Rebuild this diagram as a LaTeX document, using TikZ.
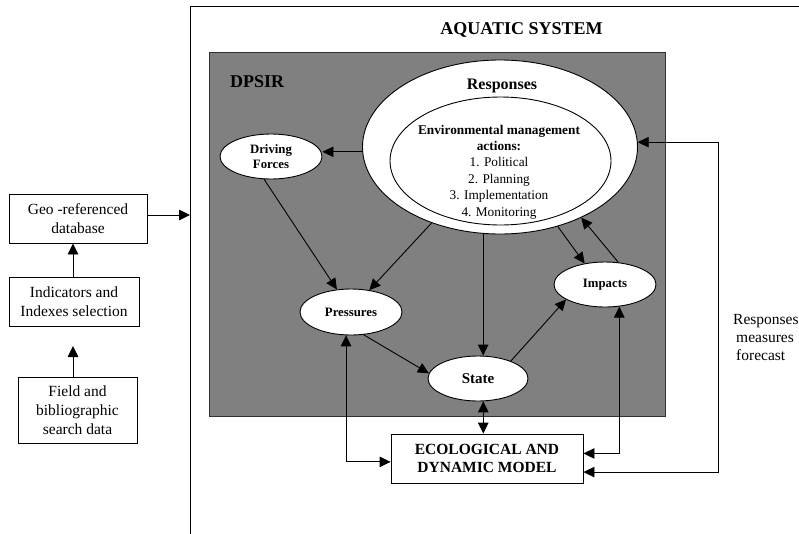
\documentclass[tikz,border=0pt]{standalone}
\usepackage{fontspec}
\setmainfont{Liberation Serif}
\usetikzlibrary{arrows.meta,shapes.geometric,calc}
\definecolor{dpsirgray}{HTML}{808080}
\definecolor{dpsirline}{HTML}{303030}
\begin{document}
\begin{tikzpicture}[x=1pt,y=-1pt,
  ell/.style={ellipse, draw, fill=white, inner sep=0pt, line width=0.9pt, align=center,
    font=\bfseries\fontsize{12.8}{15}\selectfont},
  wbox/.style={rectangle, draw, fill=white, line width=0.9pt, inner sep=0pt, align=center,
    font=\fontsize{15.5}{18.5}\selectfont},
  arr/.style={-{Triangle[length=11pt,width=10.5pt]}, line width=0.9pt},
  arrboth/.style={{Triangle[length=11pt,width=10.5pt]}-{Triangle[length=11pt,width=10.5pt]}, line width=0.9pt}]
\useasboundingbox (0,0) rectangle (799,533);
\clip (0,0) rectangle (799,533);
\fill[white] (0,0) rectangle (799,533);

% aquatic system frame (cropped)
\draw[line width=1pt] (190,545) -- (190,6) -- (815,6);
\node[font=\bfseries\fontsize{18}{20}\selectfont] (aqlabel) at (521.5,30) {AQUATIC SYSTEM};

% DPSIR grey box
\node[draw=dpsirline, fill=dpsirgray, line width=1.1pt, inner sep=0pt, minimum width=456pt,
  minimum height=364pt, anchor=north west] (dpsir) at (209,52) {};
\node[font=\bfseries\fontsize{18}{20}\selectfont, anchor=west, inner sep=0pt] (dpsirlabel) at (230,82) {DPSIR};

% Responses
\node[ell, minimum width=275pt, minimum height=174pt] (resp) at (500,147) {};
\node[ell, minimum width=221pt, minimum height=128pt] (respin) at (500.5,161) {};
\node[font=\bfseries\fontsize{16}{18}\selectfont] (resplabel) at (502,86) {Responses};
\node[align=center, font=\fontsize{13.3}{16.4}\selectfont] (resptext) at (499,172)
  {\textbf{Environmental management}\\\textbf{actions:}\\1. Political\\2. Planning\\3. Implementation\\4. Monitoring};

% DPSIR ellipses
\node[ell, minimum width=102pt, minimum height=45pt] (df) at (271,156.5) {Driving\\Forces};
\node[ell, minimum width=102pt, minimum height=46pt] (pres) at (351,312) {Pressures};
\node[ell, minimum width=100pt, minimum height=45pt, font=\bfseries\fontsize{15}{17}\selectfont] (state) at (478,378.5) {State};
\node[ell, minimum width=102pt, minimum height=45pt] (imp) at (605,284.5) {Impacts};

% model box
\node[wbox, minimum width=192pt, minimum height=49pt, font=\bfseries\fontsize{15.5}{18}\selectfont] (model) at (487,458.5)
  {ECOLOGICAL AND\\DYNAMIC MODEL};

% left boxes
\node[wbox, minimum width=138pt, minimum height=49pt] (geo) at (78,218.5) {Geo -referenced\\database};
\node[wbox, minimum width=130pt, minimum height=49pt, font=\fontsize{15.5}{19}\selectfont] (ind) at (74,301.5) {Indicators and\\Indexes selection};
\node[wbox, minimum width=119pt, minimum height=66pt, font=\fontsize{15.5}{19}\selectfont] (field) at (77.5,410) {Field and\\bibliographic\\search data};

% right label
\node[anchor=north west, align=left, inner sep=0pt, font=\fontsize{15.5}{18}\selectfont] (rmlabel) at (733,314)
  {Responses\\\hspace{3pt}measures\\\hspace{3pt}forecast};

% coordinates
\coordinate (aqleft) at (190,215);
\coordinate (indtip) at (73,346);
\coordinate (loopx) at (718,300);

% left connectors
\draw[arr] (field.north -| indtip) -- (indtip);
\draw[arr] (ind.north -| indtip) -- (indtip |- geo.south);
\draw[arr] (geo.east |- aqleft) -- (aqleft);

% DPSIR connectors
\draw[arr] (resp.182.5) -- (df.east |- resp.182.5);
\draw[arr] (df.253) -- (pres.122);
\draw[arr] (resp.228) -- (pres.50);
\draw[arr] (resp.259) -- (resp.259 |- state.north);
\draw[arr] (resp.306) -- (imp.134);
\draw[arr] (imp.59) -- (resp.319);
\draw[arr] (pres.299) -- (state.174);
\draw[arr] (state.28) -- (imp.201);

% model connectors
\draw[arrboth] (state.283) -- (state.283 |- model.north);
\draw[arrboth] (pres.258) |- (model.182);
\draw[arrboth] (imp.303) |- (model.3.3);
\draw[arrboth] (model.352.6) -| (loopx |- resp.2) -- (resp.2);
\end{tikzpicture}
\end{document}
